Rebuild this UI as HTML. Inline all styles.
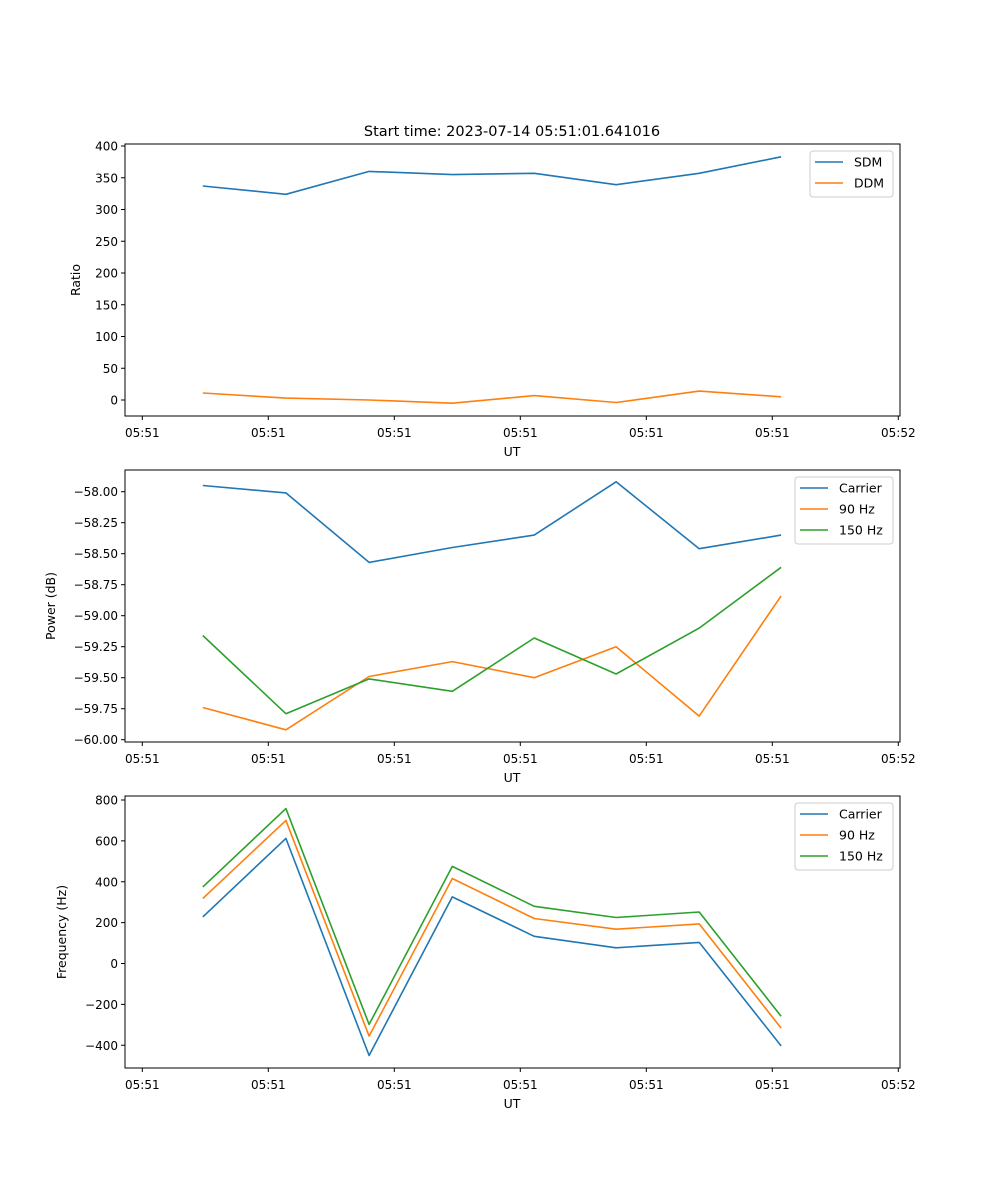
<!DOCTYPE html>
<html><head><meta charset="utf-8"><style>
body{margin:0;background:#fff}
svg{display:block;font-family:"DejaVu Sans","Liberation Sans",sans-serif}
</style></head><body>
<svg id="fig" width="1000" height="1200" viewBox="0 0 1000 1200" xmlns="http://www.w3.org/2000/svg">
<rect width="1000" height="1200" fill="#fff"/>
<text x="512" y="136" font-size="14.5" text-anchor="middle">Start time: 2023-07-14 05:51:01.641016</text>
</svg>
<script>
const times = [4.8, 11.4, 18.0, 24.6, 31.1, 37.6, 44.2, 50.7];
const xTickVals = [0, 10, 20, 30, 40, 50, 60];
const xTickLabels = ["05:51","05:51","05:51","05:51","05:51","05:51","05:52"];
const sdm = [337, 324, 360, 355, 357, 339, 357, 383];
const ddm = [11, 3, 0, -5, 7, -4, 14, 5];
const pCarrier = [-57.95, -58.01, -58.57, -58.45, -58.35, -57.92, -58.46, -58.35];
const p90 = [-59.74, -59.92, -59.49, -59.37, -59.50, -59.25, -59.81, -58.84];
const p150 = [-59.16, -59.79, -59.51, -59.61, -59.18, -59.47, -59.10, -58.61];
const fCarrier = [228, 612, -450, 326, 133, 77, 103, -403];
const f90 = [318, 700, -355, 416, 220, 168, 194, -316];
const f150 = [375, 758, -298, 475, 280, 225, 252, -258];
const ratioTicks = [0, 50, 100, 150, 200, 250, 300, 350, 400];
const powerTicks = [-60, -59.75, -59.5, -59.25, -59, -58.75, -58.5, -58.25, -58];
const freqTicks = [-400, -200, 0, 200, 400, 600, 800];

const NS = "http://www.w3.org/2000/svg";
const svg = document.getElementById('fig');
const L = 125, R = 900;
const xs = v => 142.3 + (v / 60) * (898.3 - 142.3);
function el(tag, attrs, parent) {
  const e = document.createElementNS(NS, tag);
  for (const k in attrs) e.setAttribute(k, attrs[k]);
  (parent || svg).appendChild(e);
  return e;
}
function fmt(v, dec) {
  const s = Math.abs(v).toFixed(dec);
  return (v < 0 ? "\u2212" : "") + s;
}
function panel(name, top, bot, y0v, y0p, y1v, y1p, yticks, dec, ylabel, series, legend) {
  const ys = v => y0p + (v - y0v) * (y1p - y0p) / (y1v - y0v);
  const g = el('g', {});
  
  
  series.forEach(s => {
    const pts = times.map((t, i) => xs(t).toFixed(1) + ',' + ys(s.vals[i]).toFixed(1)).join(' ');
    const pl = el('polyline', {points: pts, fill: 'none', stroke: s.color, 'stroke-width': 1.6, 'stroke-linejoin': 'round'}, g);
    
    
  });
  const frame = el('rect', {x: L, y: top, width: R - L, height: bot - top, fill: 'none', stroke: '#000', 'stroke-width': 1}, g);
  
  
  xTickVals.forEach((v, i) => {
    const x = xs(v);
    el('line', {x1: x, x2: x, y1: bot, y2: bot + 4, stroke: '#000'}, g);
    const t = el('text', {x: x, y: bot + 21, 'font-size': 12, 'text-anchor': 'middle'}, g);
    t.textContent = xTickLabels[i];
    
    
  });
  const xl = el('text', {x: 512, y: bot + 40, 'font-size': 12.5, 'text-anchor': 'middle'}, g);
  xl.textContent = 'UT';
  
  
  yticks.forEach(v => {
    const y = ys(v);
    el('line', {x1: L - 4, x2: L, y1: y, y2: y, stroke: '#000'}, g);
    const t = el('text', {x: L - 7, y: y + 4.5, 'font-size': 12, 'text-anchor': 'end'}, g);
    t.textContent = fmt(v, dec);
    
    
  });
  const cy = (top + bot) / 2;
  const yl = el('text', {x: legend.ylx, y: cy, 'font-size': 12.5, 'text-anchor': 'middle', transform: 'rotate(-90 ' + legend.ylx + ' ' + cy + ')'}, g);
  yl.textContent = ylabel;
  
  
  const lg = el('g', {}, g);
  
  
  const h = 4 + series.length * 21;
  el('rect', {x: legend.x, y: top + 7, width: 893 - legend.x, height: h, rx: 3, fill: '#fff', stroke: '#ccc', 'fill-opacity': 0.8}, lg);
  series.forEach((s, i) => {
    const y = top + 18 + i * 21;
    el('line', {x1: legend.x + 5, x2: legend.x + 33, y1: y, y2: y, stroke: s.color, 'stroke-width': 1.6}, lg);
    const t = el('text', {x: legend.x + 44, y: y + 4.5, 'font-size': 12.5}, lg);
    t.textContent = s.label;
    
    
  });
}
panel('ratio', 144, 416, 0, 400, 400, 146, ratioTicks, 0, 'Ratio',
  [{key: 'sdm', label: 'SDM', color: '#1f77b4', vals: sdm}, {key: 'ddm', label: 'DDM', color: '#ff7f0e', vals: ddm}],
  {x: 810, ylx: 80});
panel('power', 470, 742, -58, 491.7, -60, 739.7, powerTicks, 2, 'Power (dB)',
  [{key: 'carrier', label: 'Carrier', color: '#1f77b4', vals: pCarrier}, {key: 'hz90', label: '90 Hz', color: '#ff7f0e', vals: p90}, {key: 'hz150', label: '150 Hz', color: '#2ca02c', vals: p150}],
  {x: 795, ylx: 55});
panel('frequency', 796, 1068, 0, 963.5, 800, 800, freqTicks, 0, 'Frequency (Hz)',
  [{key: 'carrier', label: 'Carrier', color: '#1f77b4', vals: fCarrier}, {key: 'hz90', label: '90 Hz', color: '#ff7f0e', vals: f90}, {key: 'hz150', label: '150 Hz', color: '#2ca02c', vals: f150}],
  {x: 795, ylx: 66});
</script>
</body></html>
